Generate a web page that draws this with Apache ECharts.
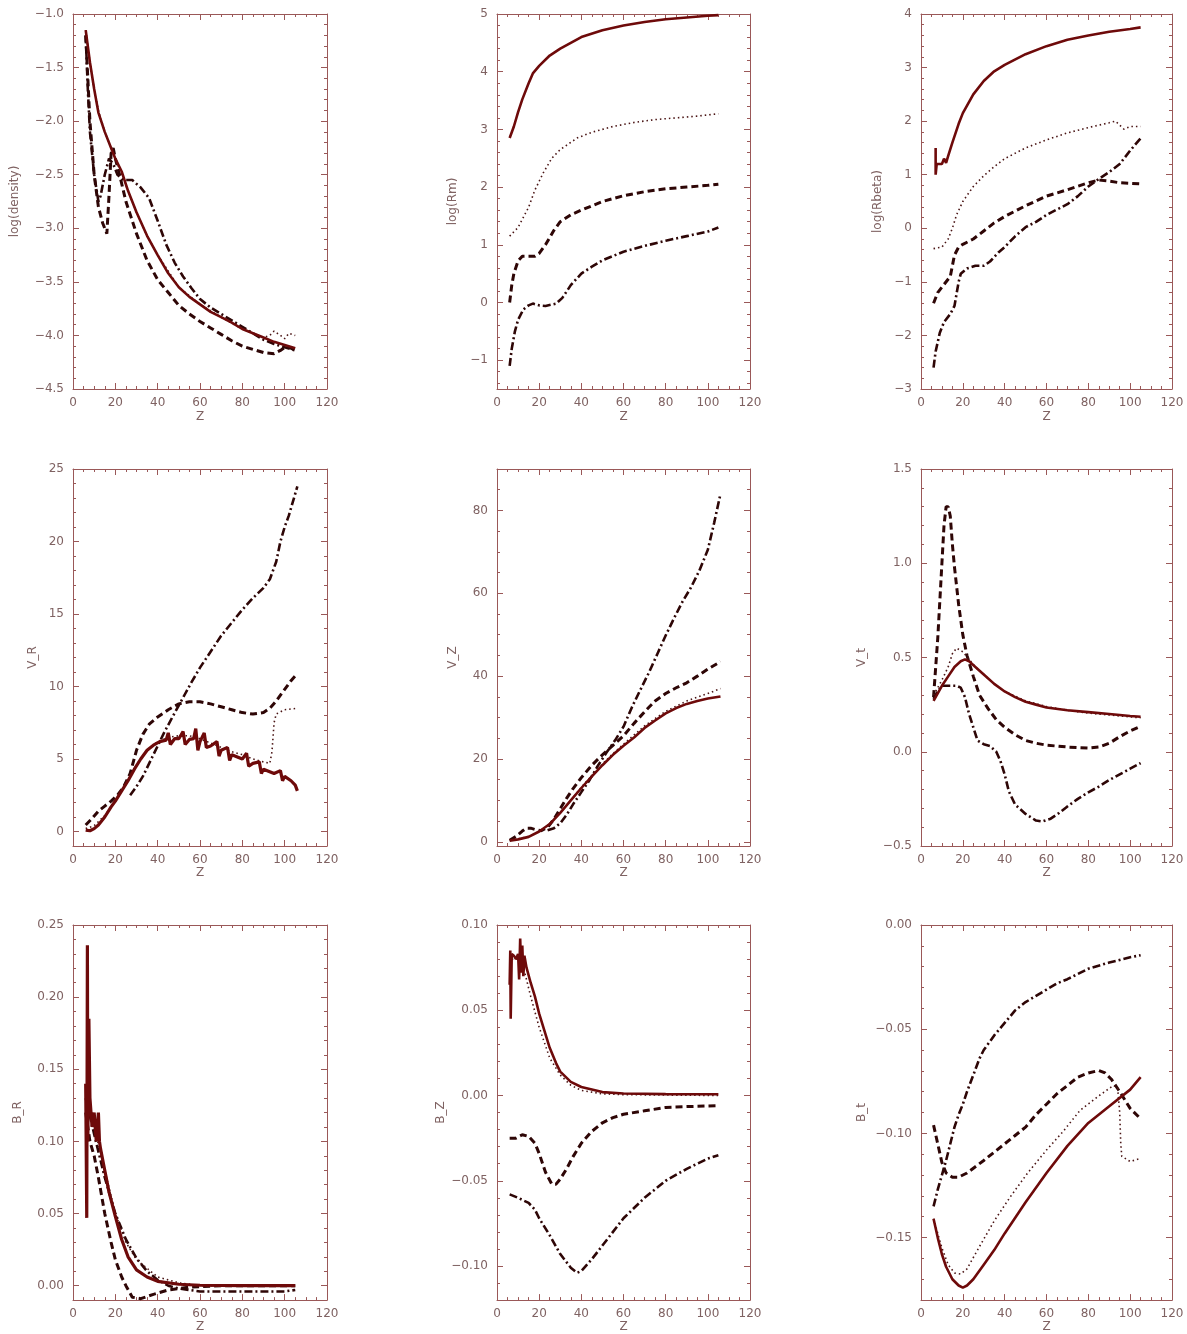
<!DOCTYPE html>
<html>
<head>
<meta charset="utf-8">
<script src="https://cdn.jsdelivr.net/npm/echarts@6/dist/echarts.min.js"></script>
<style>
html,body{margin:0;padding:0;background:#fff;}
#chart{width:1187px;height:1334px;}
</style>
</head>
<body>
<div id="chart"></div>
<script>
// ---------- DATA (Z, value) ----------
const zTicks = [0, 20, 40, 60, 80, 100, 120];

// log(density)
const densitySolid = [[6,-1.15],[7,-1.3],[8,-1.45],[10,-1.7],[12,-1.92],[15,-2.1],[18,-2.25],[20,-2.35],[23,-2.47],[26,-2.65],[30,-2.85],[35,-3.07],[40,-3.25],[45,-3.42],[50,-3.55],[55,-3.64],[60,-3.71],[65,-3.78],[70,-3.83],[75,-3.88],[80,-3.94],[85,-3.98],[90,-4.02],[95,-4.06],[100,-4.09],[105,-4.12]];
const densityDotted = [[6,-1.15],[8,-1.45],[10,-1.7],[12,-1.9],[15,-2.1],[20,-2.35],[25,-2.6],[30,-2.85],[35,-3.07],[40,-3.25],[50,-3.55],[60,-3.71],[70,-3.83],[80,-3.94],[90,-4.02],[93,-4.0],[95,-3.96],[98,-4.0],[100,-4.03],[102,-3.98],[105,-4.0]];
const densityDashed = [[6,-1.2],[7,-1.6],[8,-2.0],[10,-2.5],[12,-2.8],[14,-2.95],[16,-3.05],[17,-2.7],[18,-2.3],[19,-2.25],[20,-2.35],[22,-2.5],[25,-2.75],[30,-3.05],[35,-3.3],[40,-3.48],[45,-3.6],[50,-3.72],[55,-3.8],[60,-3.87],[65,-3.93],[70,-3.99],[75,-4.05],[80,-4.1],[85,-4.13],[90,-4.16],[95,-4.17],[98,-4.14],[101,-4.1],[105,-4.14]];
const densityDashDot = [[6,-1.2],[7,-1.7],[8,-2.1],[10,-2.5],[12,-2.75],[13,-2.7],[15,-2.5],[17,-2.35],[19,-2.4],[21,-2.5],[24,-2.55],[28,-2.55],[32,-2.62],[36,-2.72],[40,-2.93],[44,-3.15],[48,-3.32],[52,-3.45],[56,-3.56],[60,-3.66],[65,-3.74],[70,-3.8],[75,-3.86],[80,-3.92],[85,-3.98],[90,-4.04],[95,-4.08],[100,-4.11],[105,-4.14]];

// log(Rm)
const rmSolid = [[6,2.85],[8,3.05],[10,3.3],[12,3.52],[15,3.8],[17,3.97],[20,4.1],[25,4.28],[30,4.4],[40,4.6],[50,4.72],[60,4.8],[70,4.86],[80,4.91],[90,4.94],[100,4.97],[105,4.98]];
const rmDotted = [[6,1.15],[10,1.3],[15,1.65],[18,1.95],[22,2.25],[26,2.5],[30,2.65],[38,2.85],[45,2.95],[55,3.05],[65,3.12],[75,3.17],[85,3.2],[95,3.23],[105,3.27]];
const rmDashed = [[6,0.0],[7,0.3],[8,0.5],[10,0.72],[12,0.8],[15,0.8],[18,0.8],[20,0.85],[23,1.0],[27,1.25],[30,1.4],[35,1.52],[40,1.6],[50,1.75],[60,1.85],[70,1.92],[80,1.97],[90,2.0],[100,2.03],[105,2.05]];
const rmDashDot = [[6,-1.1],[7,-0.8],[8.5,-0.5],[10,-0.3],[12.5,-0.12],[15,-0.05],[17,-0.02],[20,-0.05],[23,-0.06],[28,-0.02],[31,0.08],[35,0.3],[40,0.5],[45,0.62],[50,0.73],[60,0.88],[70,0.98],[80,1.07],[90,1.15],[100,1.23],[105,1.3]];

// log(Rbeta)
const rbetaSolid = [[7,1.5],[7,1.0],[7.5,1.2],[10,1.2],[11,1.3],[12,1.22],[13,1.35],[15,1.6],[18,1.95],[20,2.15],[25,2.5],[30,2.75],[35,2.93],[40,3.05],[50,3.25],[60,3.4],[70,3.52],[80,3.6],[90,3.67],[100,3.72],[105,3.75]];
const rbetaDotted = [[6,-0.38],[10,-0.35],[13,-0.2],[15,0.0],[17,0.25],[20,0.5],[25,0.78],[30,0.98],[35,1.15],[40,1.3],[50,1.5],[60,1.65],[70,1.78],[80,1.88],[90,1.97],[93,2.0],[97,1.85],[100,1.9],[105,1.9]];
const rbetaDashed = [[6,-1.4],[8,-1.2],[10,-1.1],[14,-0.9],[16,-0.5],[18,-0.35],[20,-0.3],[25,-0.2],[30,-0.05],[35,0.1],[40,0.22],[50,0.42],[60,0.6],[70,0.72],[80,0.85],[85,0.9],[90,0.88],[95,0.85],[105,0.83]];
const rbetaDashDot = [[6,-2.6],[7,-2.3],[9,-1.95],[11,-1.75],[14,-1.6],[16,-1.45],[18,-1.0],[19,-0.85],[22,-0.75],[26,-0.7],[30,-0.7],[33,-0.62],[37,-0.45],[40,-0.35],[45,-0.15],[50,0.02],[55,0.12],[60,0.25],[65,0.35],[70,0.45],[75,0.6],[80,0.78],[85,0.92],[90,1.05],[95,1.2],[100,1.45],[105,1.68]];

// V_R
const vrSolid = [[6,0.1],[8,0.05],[10,0.2],[12,0.45],[15,1.0],[18,1.7],[20,2.1],[23,2.8],[26,3.5],[29,4.3],[32,5.0],[35,5.6],[38,5.95],[41,6.2],[44,6.3],[45,6.8],[46,6.0],[48,6.4],[50,6.4],[52,6.9],[53,6.0],[55,6.35],[57,6.4],[58,7.1],[59,5.6],[60,6.2],[62,6.8],[63,5.8],[65,5.9],[68,6.2],[69,5.2],[70,5.6],[73,5.8],[74,4.9],[75,5.3],[80,5.0],[82,5.4],[83,4.5],[85,4.7],[88,4.8],[89,4.0],[90,4.3],[95,4.0],[98,4.2],[99,3.5],[100,3.8],[103,3.5],[105,3.2],[106,2.8]];
const vrDotted = [[6,0.2],[10,0.4],[15,1.1],[20,2.1],[25,3.3],[30,4.6],[35,5.6],[40,6.2],[45,6.5],[50,6.6],[55,6.6],[60,6.4],[65,6.1],[70,5.8],[75,5.5],[80,5.3],[85,5.0],[90,4.8],[93,4.7],[94,5.5],[95,7.5],[96,8.1],[100,8.4],[106,8.5]];
const vrDashed = [[6,0.45],[9,0.9],[12,1.4],[15,1.75],[18,2.1],[21,2.5],[24,3.1],[27,4.0],[30,5.6],[33,6.7],[36,7.4],[40,7.9],[45,8.4],[50,8.8],[55,8.95],[60,8.95],[65,8.8],[70,8.6],[75,8.4],[80,8.2],[85,8.1],[90,8.2],[93,8.5],[96,9.0],[100,9.8],[103,10.4],[106,10.9]];
const vrDashDot = [[27,2.5],[30,3.1],[33,3.8],[37,5.0],[40,5.9],[43,6.8],[47,7.9],[50,8.7],[53,9.5],[56,10.3],[60,11.3],[65,12.4],[70,13.5],[75,14.4],[80,15.3],[85,16.1],[90,16.8],[93,17.4],[96,18.6],[98,20.0],[100,21.0],[102,21.8],[104,22.8],[106,23.8]];

// V_Z
const vzSolid = [[6,0.3],[10,0.6],[15,1.2],[20,2.5],[25,4.3],[30,7.0],[35,10.0],[40,13.0],[45,15.8],[50,18.5],[55,21.0],[60,23.2],[65,25.2],[70,27.5],[75,29.3],[80,31.0],[85,32.3],[90,33.3],[95,34.0],[100,34.6],[106,35.1]];
const vzDotted = [[6,0.4],[10,0.7],[15,1.3],[20,2.5],[25,4.3],[30,7.0],[35,10.0],[40,13.2],[45,16.0],[50,18.8],[55,21.3],[60,23.6],[70,28.0],[80,31.5],[90,34.0],[100,35.8],[106,37.0]];
const vzDashed = [[6,0.4],[9,1.3],[12,2.6],[14,3.3],[16,3.3],[18,3.0],[21,2.7],[24,3.5],[27,5.5],[30,8.0],[33,10.5],[36,12.8],[40,15.5],[45,18.5],[50,21.0],[55,23.3],[60,25.6],[65,28.6],[70,31.4],[75,34.0],[80,35.8],[85,37.2],[90,38.4],[95,40.0],[100,41.7],[106,43.5]];
const vzDashDot = [[24,2.8],[27,3.3],[30,4.5],[33,6.5],[36,9.0],[40,12.0],[44,15.0],[48,18.5],[52,21.6],[56,24.5],[60,27.8],[64,32.5],[68,36.7],[72,40.8],[76,45.3],[80,49.8],[84,54.0],[88,58.0],[92,61.4],[96,65.5],[100,70.5],[103,77.0],[106,84.0]];

// V_t
const vtSolid = [[6,0.27],[8,0.31],[10,0.35],[13,0.40],[16,0.45],[19,0.48],[21,0.49],[23,0.48],[26,0.45],[30,0.41],[35,0.36],[40,0.32],[45,0.29],[50,0.265],[55,0.25],[60,0.235],[70,0.22],[80,0.21],[90,0.2],[100,0.19],[105,0.186]];
const vtDotted = [[6,0.3],[10,0.38],[13,0.45],[15,0.52],[17,0.55],[20,0.53],[23,0.49],[26,0.45],[30,0.41],[35,0.36],[40,0.32],[50,0.27],[60,0.24],[70,0.22],[80,0.205],[90,0.195],[100,0.185],[105,0.18]];
const vtDashed = [[6,0.29],[8,0.6],[10,1.0],[11,1.2],[12,1.3],[13,1.3],[14,1.25],[15,1.1],[16,0.98],[17,0.88],[18,0.78],[19,0.7],[20,0.62],[22,0.51],[25,0.4],[28,0.3],[32,0.23],[36,0.17],[40,0.13],[45,0.09],[50,0.06],[55,0.045],[60,0.035],[70,0.025],[80,0.02],[85,0.025],[90,0.045],[95,0.08],[100,0.11],[105,0.135]];
const vtDashDot = [[6,0.28],[8,0.32],[10,0.35],[14,0.35],[17,0.35],[19,0.34],[21,0.29],[23,0.2],[25,0.13],[27,0.06],[30,0.04],[33,0.03],[36,0.0],[38,-0.05],[40,-0.12],[42,-0.21],[45,-0.28],[50,-0.33],[55,-0.365],[58,-0.37],[62,-0.355],[66,-0.325],[70,-0.29],[75,-0.25],[80,-0.215],[85,-0.185],[90,-0.15],[95,-0.12],[100,-0.09],[105,-0.06]];

// B_R
const brSolid = [[6,0.14],[6.5,0.047],[6.8,0.236],[7,0.1],[7.5,0.185],[8,0.13],[9,0.11],[10,0.12],[11,0.10],[12,0.12],[12.5,0.1],[13,0.095],[15,0.08],[17,0.065],[20,0.048],[23,0.032],[26,0.02],[30,0.011],[35,0.006],[40,0.003],[50,0.001],[60,0.0003],[80,0.0],[105,0.0]];
const brDotted = [[6,0.13],[10,0.11],[15,0.08],[20,0.05],[25,0.03],[30,0.018],[40,0.006],[50,0.002],[60,0.0],[105,0.0]];
const brDashed = [[6,0.12],[8,0.1],[10,0.09],[12,0.075],[15,0.05],[18,0.03],[20,0.018],[23,0.006],[25,0.0],[28,-0.008],[32,-0.009],[38,-0.006],[45,-0.003],[55,-0.001],[70,0.0],[90,0.0],[105,0.0]];
const brDashDot = [[6,0.13],[10,0.105],[15,0.075],[20,0.05],[25,0.032],[30,0.019],[35,0.01],[40,0.004],[45,0.0],[50,-0.002],[55,-0.003],[60,-0.004],[70,-0.004],[80,-0.004],[90,-0.004],[100,-0.004],[105,-0.003]];

// B_Z
const bzSolid = [[6,0.065],[6.3,0.085],[6.5,0.045],[7,0.083],[8,0.082],[9,0.08],[10,0.083],[10.5,0.068],[11,0.092],[11.5,0.072],[12,0.088],[12.5,0.07],[13,0.082],[14,0.075],[16,0.066],[18,0.058],[20,0.048],[22,0.04],[25,0.028],[28,0.019],[30,0.014],[35,0.008],[40,0.005],[50,0.002],[60,0.0012],[80,0.0008],[105,0.0007]];
const bzDotted = [[7,0.08],[10,0.08],[13,0.073],[16,0.058],[20,0.04],[25,0.022],[30,0.012],[35,0.006],[40,0.003],[50,0.001],[60,0.0005],[105,0.0]];
const bzDashed = [[6,-0.025],[9,-0.025],[12,-0.023],[15,-0.024],[18,-0.028],[20,-0.034],[23,-0.045],[26,-0.052],[28,-0.052],[30,-0.049],[33,-0.043],[36,-0.036],[40,-0.028],[45,-0.021],[50,-0.016],[55,-0.013],[60,-0.011],[70,-0.009],[80,-0.007],[90,-0.0065],[105,-0.006]];
const bzDashDot = [[6,-0.058],[10,-0.06],[15,-0.063],[18,-0.067],[20,-0.072],[25,-0.082],[30,-0.093],[35,-0.101],[38,-0.104],[40,-0.103],[45,-0.096],[50,-0.088],[55,-0.08],[60,-0.072],[70,-0.06],[80,-0.05],[90,-0.043],[100,-0.037],[105,-0.035]];

// B_t
const btSolid = [[6,-0.141],[8,-0.150],[10,-0.158],[12,-0.164],[15,-0.170],[18,-0.173],[20,-0.174],[22,-0.173],[25,-0.170],[30,-0.163],[35,-0.156],[40,-0.148],[50,-0.133],[60,-0.119],[70,-0.106],[80,-0.095],[90,-0.087],[100,-0.079],[105,-0.073]];
const btDotted = [[6,-0.141],[10,-0.155],[13,-0.163],[16,-0.167],[19,-0.1675],[22,-0.165],[27,-0.156],[35,-0.142],[43,-0.130],[51,-0.119],[60,-0.108],[68,-0.099],[76,-0.089],[85,-0.082],[92,-0.077],[94,-0.078],[95,-0.09],[95.5,-0.105],[96,-0.111],[100,-0.1135],[105,-0.112]];
const btDashed = [[6,-0.096],[8,-0.105],[10,-0.114],[12,-0.119],[15,-0.121],[18,-0.121],[22,-0.119],[26,-0.116],[30,-0.113],[35,-0.109],[40,-0.105],[45,-0.101],[50,-0.097],[55,-0.091],[60,-0.086],[65,-0.081],[70,-0.077],[75,-0.073],[80,-0.071],[85,-0.0698],[88,-0.071],[91,-0.074],[95,-0.08],[100,-0.088],[105,-0.093]];
const btDashDot = [[6,-0.135],[8,-0.127],[10,-0.12],[12,-0.113],[14,-0.105],[16,-0.097],[18,-0.091],[20,-0.086],[22,-0.08],[25,-0.072],[28,-0.064],[30,-0.060],[35,-0.053],[40,-0.047],[45,-0.041],[50,-0.037],[55,-0.034],[60,-0.031],[65,-0.028],[70,-0.026],[80,-0.021],[90,-0.018],[100,-0.0155],[105,-0.0145]];

// tick labels
const ticksDensity = [-4.5,-4.0,-3.5,-3.0,-2.5,-2.0,-1.5,-1.0];
const ticksRm = [-1,0,1,2,3,4,5];
const ticksRbeta = [-3,-2,-1,0,1,2,3,4];
const ticksVR = [0,5,10,15,20,25];
const ticksVZ = [0,20,40,60,80];
const ticksVt = [-0.5,0.0,0.5,1.0,1.5];
const ticksBR = [0.00,0.05,0.10,0.15,0.20,0.25];
const ticksBZ = [-0.10,-0.05,0.00,0.05,0.10];
const ticksBt = [-0.15,-0.10,-0.05,0.00];

const yNames = ['log(density)','log(Rm)','log(Rbeta)','V_R','V_Z','V_t','B_R','B_Z','B_t'];

// ---------- LAYOUT / STYLE ----------
const panels = [
  {min:-4.5, max:-1.0, ticks:ticksDensity, minor:5, dec:1, gap:52, s:[densitySolid,densityDotted,densityDashed,densityDashDot]},
  {min:-1.5, max:5, ticks:ticksRm, minor:5, dec:0, gap:38, s:[rmSolid,rmDotted,rmDashed,rmDashDot]},
  {min:-3, max:4, ticks:ticksRbeta, minor:5, dec:0, gap:37, s:[rbetaSolid,rbetaDotted,rbetaDashed,rbetaDashDot]},
  {min:-1, max:25, ticks:ticksVR, minor:5, dec:0, gap:34, s:[vrSolid,vrDotted,vrDashed,vrDashDot], solidW:3.2},
  {min:-1, max:90, ticks:ticksVZ, minor:4, dec:0, gap:38, s:[vzSolid,vzDotted,vzDashed,vzDashDot]},
  {min:-0.5, max:1.5, ticks:ticksVt, minor:5, dec:1, gap:53, s:[vtSolid,vtDotted,vtDashed,vtDashDot]},
  {min:-0.01, max:0.25, ticks:ticksBR, minor:5, dec:2, gap:49, s:[brSolid,brDotted,brDashed,brDashDot], solidW:3.2},
  {min:-0.12, max:0.10, ticks:ticksBZ, minor:5, dec:2, gap:48, s:[bzSolid,bzDotted,bzDashed,bzDashDot]},
  {min:-0.18, max:0.0, ticks:ticksBt, minor:5, dec:2, gap:53, s:[btSolid,btDotted,btDashed,btDashDot]}
];
const cols = [{left:73,width:254},{left:497,width:253},{left:921,width:251}];
const rows = [{top:14,height:375,zgap:22},{top:469,height:377,zgap:20},{top:925,height:378,zgap:18}];

const axisColor = '#9a5858';
const labelColor = '#7f6262';
const font = 'DejaVu Sans';

function minorVals(ticks, n, min, max) {
  const step = (ticks[1]-ticks[0])/n;
  const out = [];
  const i0 = Math.ceil((min - ticks[0])/step - 1e-6);
  const i1 = Math.floor((max - ticks[0])/step + 1e-6);
  for (let i=i0;i<=i1;i++){
    if (((i % n)+n)%n === 0) continue;
    out.push(+(ticks[0]+i*step).toFixed(6));
  }
  return out;
}
const fmt = dec => v => v.toFixed(dec).replace('-', '\u2212');

const grids=[], xAxes=[], yAxes=[], series=[];
const xMinor = minorVals(zTicks, 4, 0, 120);

panels.forEach((p, i) => {
  const c = cols[i%3], r = rows[Math.floor(i/3)];
  grids.push({left:c.left, top:r.top, width:c.width, height:r.height, containLabel:false});
  const base = {gridIndex:i, type:'value', splitLine:{show:false}, axisLine:{show:false, onZero:false}, axisLabel:{show:false}};
  const lineOn = {show:true, onZero:false, lineStyle:{color:axisColor, width:1}};
  const tickStyle = {color:axisColor, width:1};
  xAxes.push(Object.assign({}, base, {min:0, max:120, position:'bottom', axisLine:lineOn,
    axisTick:{show:true, inside:true, length:6, customValues:zTicks, lineStyle:tickStyle},
    axisLabel:{show:true, customValues:zTicks, formatter:fmt(0), color:labelColor, fontSize:12, fontFamily:font, margin:8},
    name:'Z', nameLocation:'middle', nameGap:r.zgap, nameTextStyle:{color:labelColor, fontSize:12, fontFamily:font}}));
  xAxes.push(Object.assign({}, base, {min:0, max:120, position:'bottom',
    axisTick:{show:true, inside:true, length:3, customValues:xMinor, lineStyle:tickStyle}}));
  xAxes.push(Object.assign({}, base, {min:0, max:120, position:'top', axisLine:lineOn,
    axisTick:{show:true, inside:true, length:6, customValues:zTicks, lineStyle:tickStyle}}));
  xAxes.push(Object.assign({}, base, {min:0, max:120, position:'top',
    axisTick:{show:true, inside:true, length:3, customValues:xMinor, lineStyle:tickStyle}}));
  const yMinor = minorVals(p.ticks, p.minor, p.min, p.max);
  yAxes.push(Object.assign({}, base, {min:p.min, max:p.max, position:'left', axisLine:lineOn,
    axisTick:{show:true, inside:true, length:6, customValues:p.ticks, lineStyle:tickStyle},
    axisLabel:{show:true, customValues:p.ticks, formatter:fmt(p.dec), color:labelColor, fontSize:12, fontFamily:font, margin:9},
    name:yNames[i], nameLocation:'middle', nameGap:p.gap, nameRotate:90, nameTextStyle:{color:labelColor, fontSize:12, fontFamily:font}}));
  yAxes.push(Object.assign({}, base, {min:p.min, max:p.max, position:'left',
    axisTick:{show:true, inside:true, length:3, customValues:yMinor, lineStyle:tickStyle}}));
  yAxes.push(Object.assign({}, base, {min:p.min, max:p.max, position:'right', axisLine:lineOn,
    axisTick:{show:true, inside:true, length:6, customValues:p.ticks, lineStyle:tickStyle}}));
  yAxes.push(Object.assign({}, base, {min:p.min, max:p.max, position:'right',
    axisTick:{show:true, inside:true, length:3, customValues:yMinor, lineStyle:tickStyle}}));

  const styles = [
    {color:'#6e0a0a', width:p.solidW||2.6, type:'solid'},
    {color:'#4a1414', width:1.6, type:[1.5,3]},
    {color:'#2e0606', width:3, type:[7,4]},
    {color:'#2e0606', width:2.6, type:[8,3,2,3]}
  ];
  p.s.forEach((d, k) => {
    series.push({type:'line', xAxisIndex:4*i, yAxisIndex:4*i, data:d, showSymbol:false, symbol:'none',
      lineStyle:styles[k], z: 10-k, animation:false, silent:true, clip:true});
  });
});

const chart = echarts.init(document.getElementById('chart'), null, {renderer:'canvas'});
chart.setOption({backgroundColor:'#ffffff', animation:false, grid:grids, xAxis:xAxes, yAxis:yAxes, series:series});
</script>
</body>
</html>
